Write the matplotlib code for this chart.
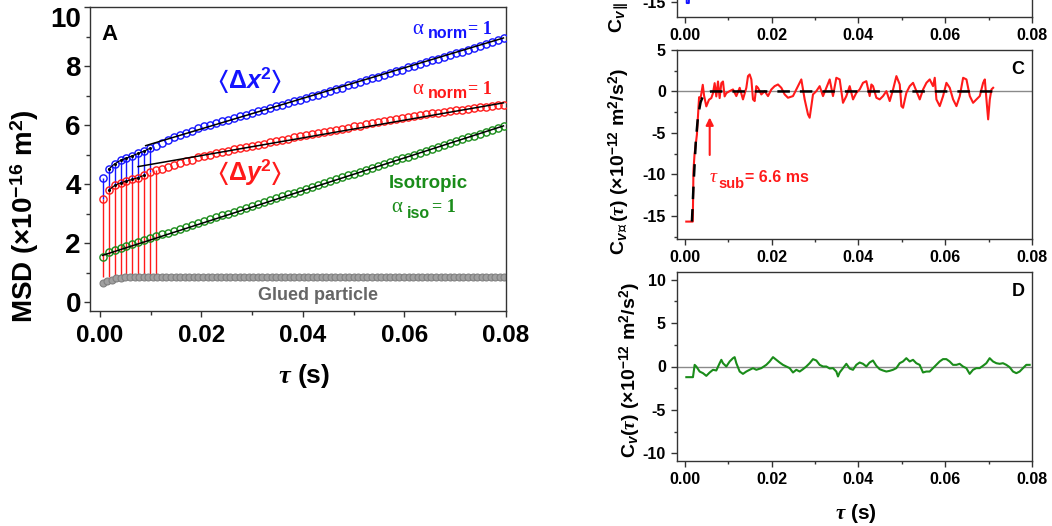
import numpy as np
import matplotlib
matplotlib.use('Agg')
import matplotlib.pyplot as plt
from matplotlib.ticker import MultipleLocator, FormatStrFormatter

plt.rcParams.update({
    'font.family': ['Liberation Sans', 'DejaVu Sans'],
    'font.weight': 'bold',
    'axes.unicode_minus': False,
    'mathtext.fontset': 'custom',
    'mathtext.rm': 'Liberation Sans:bold',
    'mathtext.it': 'Liberation Serif:italic',
    'mathtext.bf': 'Liberation Sans:bold:italic',
    'mathtext.sf': 'DejaVu Sans:bold',
    'mathtext.fallback': 'stixsans',
})

BLUE = '#1414ff'
RED = '#ff1a1a'
GREEN = '#1a8c1a'
GRAY = '#8c8c8c'

# ---------------- Panel A data (MSD, x1e-16 m^2) ----------------
msd_x = [4.20, 4.50, 4.68, 4.80, 4.88, 4.96, 5.04, 5.12, 5.22,
         5.30, 5.40, 5.50, 5.58, 5.66, 5.73, 5.80, 5.89, 5.96, 6.01,
         6.06, 6.12, 6.17, 6.23, 6.29, 6.34, 6.40, 6.46, 6.51, 6.57,
         6.63, 6.68, 6.74, 6.80, 6.86, 6.91, 6.97, 7.03, 7.09, 7.15,
         7.21, 7.27, 7.34, 7.40, 7.46, 7.52, 7.58, 7.64, 7.70, 7.76,
         7.82, 7.88, 7.95, 8.01, 8.07, 8.13, 8.19, 8.25, 8.31, 8.37,
         8.43, 8.49, 8.55, 8.61, 8.67, 8.73, 8.80, 8.87, 8.95]
msd_y = [3.49, 3.78, 3.95, 4.04, 4.10, 4.16, 4.22, 4.30, 4.39, 4.46, 4.52,
         4.58, 4.65, 4.71, 4.77, 4.83, 4.91, 4.96, 5.00, 5.04,
         5.08, 5.12, 5.17, 5.21, 5.25, 5.29, 5.33, 5.37, 5.41, 5.45,
         5.49, 5.53, 5.58, 5.62, 5.65, 5.69, 5.73, 5.76, 5.80, 5.84,
         5.88, 5.91, 5.95, 5.98, 6.02, 6.06, 6.09, 6.13, 6.17, 6.21,
         6.24, 6.27, 6.30, 6.33, 6.36, 6.39, 6.41, 6.44, 6.47, 6.50,
         6.52, 6.55, 6.57, 6.60, 6.62, 6.64, 6.67, 6.69]
msd_iso = [1.54, 1.68, 1.75, 1.82, 1.89, 1.96, 2.03, 2.09, 2.16, 2.23,
           2.29, 2.35, 2.42, 2.48, 2.55, 2.61, 2.68, 2.74, 2.81, 2.87,
           2.94, 3.00, 3.06, 3.13, 3.19, 3.26, 3.32, 3.39, 3.45, 3.52,
           3.58, 3.65, 3.71, 3.77, 3.84, 3.90, 3.97, 4.03, 4.10, 4.16,
           4.23, 4.29, 4.35, 4.42, 4.48, 4.55, 4.61, 4.68, 4.74, 4.81,
           4.87, 4.93, 5.00, 5.06, 5.13, 5.19, 5.26, 5.32, 5.39, 5.45,
           5.52, 5.58, 5.64, 5.71, 5.77, 5.84, 5.90, 5.97]
tau_msd = 0.0005 + 0.00118 * np.arange(len(msd_x))   # lag-time grid (s)

msd_glued = [0.66, 0.70, 0.75, 0.80, 0.83] + [0.85] * 84
tau_glued = 0.0005 + 0.0009 * np.arange(len(msd_glued))

fit_x_tau, fit_x_val = [0.009, 0.0795], [5.30, 8.95]
fit_y_tau, fit_y_val = [0.0075, 0.0795], [4.59, 6.75]
fit_iso_tau, fit_iso_val = [0.0005, 0.0795], [1.58, 5.97]
n_stem_y, n_stem_x = 10, 9

# ---------------- Panel C data (C_v_perp, x1e-12 m^2/s^2) ----------------
c_perp_tau_ms = [0.3, 1.8, 1.95, 2.2, 2.75, 3.25, 3.6, 4.1, 4.4, 4.92, 5.53, 6.07, 6.46,
                 6.84, 7.22, 7.61, 7.99, 8.38, 8.76, 9.14, 9.53, 10.30, 11.07, 11.84,
                 12.61, 13.37, 14.14, 14.53, 14.91, 15.30, 15.68, 16.06, 16.45, 16.83,
                 17.6, 18.37, 19.14, 19.91, 20.67, 21.44, 22.21, 22.98, 23.75, 24.9,
                 26.05, 26.82, 27.59, 28.36, 28.74, 29.13, 29.51, 30.28, 31.05, 31.82,
                 32.59, 33.36, 34.12, 34.89, 35.66, 36.43, 37.2, 37.97, 38.74, 39.51,
                 40.27, 41.04, 41.81, 42.58, 42.97, 43.35, 44.12, 44.89, 45.66, 46.43,
                 47.2, 47.97, 48.74, 49.51, 49.89, 50.27, 51.04, 51.81, 52.58, 53.35,
                 54.12, 54.89, 55.66, 56.42, 57.19, 57.58, 57.96, 58.73, 59.5, 60.27,
                 61.04, 61.81, 62.58, 63.35, 64.12, 64.89, 65.66, 66.42, 67.19, 67.96,
                 68.73, 69.12, 69.5, 69.89, 70.27, 70.65, 71.04]
c_perp_val = [-15.7, -15.7, -9.6, -7.6, -5.2, -0.7, -0.8, 0.8, -0.5, -1.8, -1.0, -0.8, -0.2,
              1.0, -0.6, 1.2, -0.8, 1.0, 1.2, -0.6, -0.2, 0.04, 0.24, -0.56,
              0.44, -0.96, 0.44, 1.85, 2.05, 1.45, -0.96, -1.16, 0.64, 0.44,
              -0.36, 0.04, -0.56, 0.24, 0.64, 0.84, 0.44, -0.36, -0.76, -0.56,
              0.64, 1.45, -0.96, -2.77, -3.17, -1.77, -0.36, 0.04, 0.64, -0.56,
              0.44, 1.45, -0.56, 1.65, 1.45, -1.37, -0.56, 0.64, -0.96, -0.16,
              0.24, 1.04, 1.24, -0.56, 0.84, 0.64, -0.76, -0.96, -0.56, 0.04,
              -1.16, 0.24, 1.85, 0.84, -1.77, -1.97, -0.16, 0.64, 1.04, 0.04,
              -0.96, 0.24, 1.04, 1.45, 0.64, 1.65, -0.96, -1.77, -0.56, 1.04,
              0.44, -0.96, -1.77, -0.56, 1.65, 1.45, -0.56, -1.37, -0.96, -0.56,
              1.04, 1.45, -0.96, -3.37, -0.96, 0.24, 0.44]
c_fit_tau_ms = [1.6, 2.0, 2.5, 3.0, 3.6, 4.2, 5.0, 6.0, 71.5]
c_fit_val = [-15.7, -11.0, -6.0, -3.0, -1.3, -0.5, -0.1, 0.0, 0.0]

# ---------------- Panel D data (C_v, x1e-12 m^2/s^2) ----------------
c_v_tau_ms = [0.31, 1.84, 2.23, 2.61, 3.38, 4.15, 4.92, 5.69, 6.46, 7.22, 7.99, 8.38, 8.76,
              9.53, 10.3, 11.07, 11.45, 11.84, 12.61, 13.37, 14.14, 14.91, 15.68, 16.45,
              17.6, 18.75, 19.52, 20.29, 21.06, 21.83, 22.59, 23.36, 24.13, 24.9, 25.67,
              26.44, 27.2, 27.97, 28.74, 29.51, 30.28, 31.05, 31.82, 32.59, 33.35, 34.12,
              34.89, 35.27, 35.66, 36.43, 37.2, 37.96, 38.73, 39.5, 40.27, 41.04, 41.81,
              42.57, 43.34, 44.11, 44.88, 45.65, 46.42, 47.19, 47.95, 48.72, 49.49, 50.26,
              51.03, 51.8, 52.57, 53.33, 54.1, 54.87, 55.64, 56.41, 57.18, 57.94, 58.71,
              59.48, 60.25, 61.02, 61.79, 62.56, 63.32, 64.09, 64.86, 65.63, 66.4, 67.17,
              67.93, 68.7, 69.47, 70.24, 71.01, 71.78, 72.55, 73.31, 74.08, 74.85, 75.62,
              76.39, 77.16, 77.92, 78.69, 79.46]
c_v_val = [-1.23, -1.23, 0.19, 0.0, -0.58, -0.77, -1.08, -0.69, -0.38, -0.46, 0.38, 0.77, 0.38,
           0.0, 0.58, 0.96, 1.08, 0.38, -0.58, -0.85, -0.58, -0.38, -0.19, -0.38,
           -0.19, 0.19, 0.58, 1.08, 0.77, 0.46, 0.19, 0.0, -0.19, -0.69, -0.38,
           -0.58, -0.31, 0.0, 0.38, 0.85, 0.69, 0.19, 0.0, 0.0, -0.23, -0.19,
           -0.58, -1.15, -0.69, -0.19, 0.31, -0.23, -0.38, 0.19, 0.46, 0.31, 0.0,
           0.46, 0.69, 0.08, -0.31, -0.46, -0.58, -0.5, -0.38, -0.19, 0.38, 0.58,
           0.96, 0.58, 0.77, 0.38, 0.19, -0.69, -0.58, -0.58, -0.19, 0.19, 0.58,
           0.85, 0.85, 0.58, 0.19, 0.19, 0.31, 0.0, -0.19, -0.85, -0.38, -0.19,
           -0.19, 0.08, 0.38, 0.96, 0.58, 0.38, 0.31, 0.38, 0.19, -0.08, -0.58,
           -0.77, -0.58, -0.19, 0.19, 0.19]

# ---------------- Panel B data (only bottom visible) ----------------
c_par_tau_ms = [0.4, 0.4, 0.9, 1.2]
c_par_val = [-14.0, -15.1, -15.1, -5.0]

xticks_right = [0.00, 0.02, 0.04, 0.06, 0.08]

# ---------------- Figure ----------------
W, H = 1052, 526
fig = plt.figure(figsize=(W / 100, H / 100), dpi=100)


def ax_at(l, t, r, b):
    return fig.add_axes([l / W, 1 - b / H, (r - l) / W, (b - t) / H])


def ptext(x, y, s, **kw):
    return fig.text(x / W, 1 - y / H, s, **kw)


def style(ax, size, major_len=5, minor_len=3):
    for sp in ax.spines.values():
        sp.set_linewidth(1.0)
        sp.set_color('#333333')
    ax.tick_params(which='major', direction='out', length=major_len, width=1,
                   labelsize=size, pad=4, color='#333333')
    ax.tick_params(which='minor', direction='out', length=minor_len, width=1,
                   color='#333333')
    for lab in ax.get_xticklabels() + ax.get_yticklabels():
        lab.set_fontweight('bold')


# ---- Panel A ----
axA = ax_at(90, 7, 506, 311)
axA.vlines(tau_msd[:n_stem_y], msd_glued[-1], msd_y[:n_stem_y], color=RED, lw=1, zorder=1)
axA.vlines(tau_msd[:n_stem_x], msd_y[:n_stem_x], msd_x[:n_stem_x], color=BLUE, lw=1, zorder=1)
axA.plot(tau_glued, msd_glued, '-o', color=GRAY, ms=5, mfc='#a0a0a0', mec='#808080',
         mew=0.8, lw=1, zorder=2)
for vals, col in [(msd_x, BLUE), (msd_y, RED), (msd_iso, GREEN)]:
    axA.plot(tau_msd, vals, 'o', ms=5.2, mfc='none', mec=col, mew=1.0, zorder=3)
axA.plot(tau_msd[1:9], msd_x[1:9], '-', color='k', lw=0.8, marker='o', ms=1.2, zorder=4)
axA.plot(tau_msd[1:8], msd_y[1:8], '-', color='k', lw=0.8, marker='o', ms=1.2, zorder=4)
axA.plot(fit_x_tau, fit_x_val, '-', color='k', lw=1.1, zorder=4)
axA.plot(fit_y_tau, fit_y_val, '-', color='k', lw=1.1, zorder=4)
axA.plot(fit_iso_tau, fit_iso_val, '-', color='k', lw=1.1, zorder=4)

axA.set_xlim(-0.00197, 0.08)
axA.set_ylim(-0.305, 10.0)
axA.set_xticks([0.00, 0.02, 0.04, 0.06, 0.08])
axA.xaxis.set_major_formatter(FormatStrFormatter('%.2f'))
axA.xaxis.set_minor_locator(MultipleLocator(0.01))
axA.set_yticks([0, 2, 4, 6, 8, 10])
axA.yaxis.set_minor_locator(MultipleLocator(1))
style(axA, 18, major_len=4.5, minor_len=3)
axA.tick_params(axis='x', which='major', pad=5, labelsize=17.5)
axA.tick_params(axis='y', which='major', pad=2, labelsize=20)
for lab in axA.get_xticklabels() + axA.get_yticklabels():
    lab.set_fontweight('bold')
axA.get_yticklabels()[-1].set_va('top')
axA.set_ylabel('MSD (×10$^{-16}$ m$^{2}$)', fontsize=20, fontweight='bold')
axA.yaxis.set_label_coords(-0.118, 0.31)
axA.set_xlabel(r'$\tau$ (s)', fontsize=19, fontweight='bold')
axA.xaxis.set_label_coords(0.514, -0.168)

ptext(110, 34, 'A', fontsize=16, fontweight='bold', ha='center', va='center')
ptext(249, 80, r'$\langle\Delta\mathbf{x}^{2}\rangle$', color=BLUE, fontsize=18,
      ha='center', va='center')
ptext(249, 172, r'$\langle\Delta\mathbf{y}^{2}\rangle$', color=RED, fontsize=18,
      ha='center', va='center')
for (ya, col) in [(29, BLUE), (90, RED)]:
    ptext(418, ya, 'α', family='Liberation Serif', fontweight='normal', fontsize=15,
          color=col, ha='center', va='center')
    ptext(428, ya + 4, 'norm', fontsize=11.5, fontweight='bold', color=col,
          ha='left', va='center')
    ptext(468, ya, '= 1', family='Liberation Serif', fontweight='bold', fontsize=13,
          color=col, ha='left', va='center')
ptext(428, 184, 'Isotropic', fontsize=13.5, fontweight='bold', color=GREEN,
      ha='center', va='center')
ptext(397, 208, 'α', family='Liberation Serif', fontweight='normal', fontsize=15,
      color=GREEN, ha='center', va='center')
ptext(407, 213, 'iso', fontsize=11.5, fontweight='bold', color=GREEN, ha='left', va='center')
ptext(432, 208, '= 1', family='Liberation Serif', fontweight='bold', fontsize=13,
      color=GREEN, ha='left', va='center')
ptext(318, 296, 'Glued particle', fontsize=13, fontweight='bold', color='#666666',
      ha='center', va='center')


def right_axes(t, b, ylim, yticks):
    ax = ax_at(677, t, 1032, b)
    ax.set_xlim(-0.00184, 0.08)
    ax.set_ylim(*ylim)
    ax.set_xticks(xticks_right)
    ax.xaxis.set_major_formatter(FormatStrFormatter('%.2f'))
    ax.xaxis.set_minor_locator(MultipleLocator(0.01))
    ax.set_yticks(yticks)
    ax.yaxis.set_minor_locator(MultipleLocator(2.5))
    style(ax, 11.5, major_len=4, minor_len=2.5)
    return ax


# ---- Panel B (mostly cut off) ----
axB = right_axes(-172, 17, (-16.7, 5), [-15, -10, -5, 0, 5])
axB.plot(np.array(c_par_tau_ms) / 1000, c_par_val, color=BLUE, lw=1.4)
axB.set_ylabel(r'C$_{\mathbf{v}\mathsf{\parallel}}$($\tau$) (×10$^{-12}$ m$^{2}$/s$^{2}$)',
               fontsize=14, fontweight='bold')
axB.yaxis.set_label_coords(-0.127, 0.41)

# ---- Panel C ----
axC = right_axes(50, 239, (-17.8, 5), [-15, -10, -5, 0, 5])
axC.axhline(0, color='#8a8a8a', lw=1, zorder=1)
axC.plot(np.array(c_perp_tau_ms) / 1000, c_perp_val, color=RED, lw=1.5, zorder=2)
axC.plot(np.array(c_fit_tau_ms) / 1000, c_fit_val, color='k', lw=1.8, ls=(0, (5, 4)), zorder=3)
axC.annotate('', xy=(0.0057, -2.8), xytext=(0.0057, -8.0),
             arrowprops=dict(arrowstyle='-|>', color=RED, lw=1.5, mutation_scale=11))
axC.set_ylabel(r'C$_{\mathbf{v}\mathsf{\perp}}$($\tau$) (×10$^{-12}$ m$^{2}$/s$^{2}$)',
               fontsize=14, fontweight='bold')
axC.yaxis.set_label_coords(-0.127, 0.41)
ptext(713, 178, 'τ', family='Liberation Serif', style='italic', fontweight='normal',
      fontsize=14, color=RED, ha='center', va='center')
ptext(718, 184, 'sub', fontsize=10.5, fontweight='bold', color=RED, ha='left', va='center')
ptext(745, 178, '= 6.6 ms', fontsize=11.5, fontweight='bold', color=RED, ha='left', va='center')
ptext(1018, 69, 'C', fontsize=13, fontweight='bold', ha='center', va='center')

# ---- Panel D ----
axD = right_axes(272, 461, (-10.9, 10.9), [-10, -5, 0, 5, 10])
axD.axhline(0, color='#8a8a8a', lw=1, zorder=1)
axD.plot(np.array(c_v_tau_ms) / 1000, c_v_val, color=GREEN, lw=1.5, zorder=2)
axD.set_ylabel(r'C$_{\mathbf{v}}$($\tau$) (×10$^{-12}$ m$^{2}$/s$^{2}$)', fontsize=14,
               fontweight='bold')
axD.yaxis.set_label_coords(-0.096, 0.48)
axD.set_xlabel(r'$\tau$ (s)', fontsize=15, fontweight='bold')
axD.xaxis.set_label_coords(0.504, -0.217)
ptext(1018, 291, 'D', fontsize=13, fontweight='bold', ha='center', va='center')

fig.savefig('out.png', dpi=100)
